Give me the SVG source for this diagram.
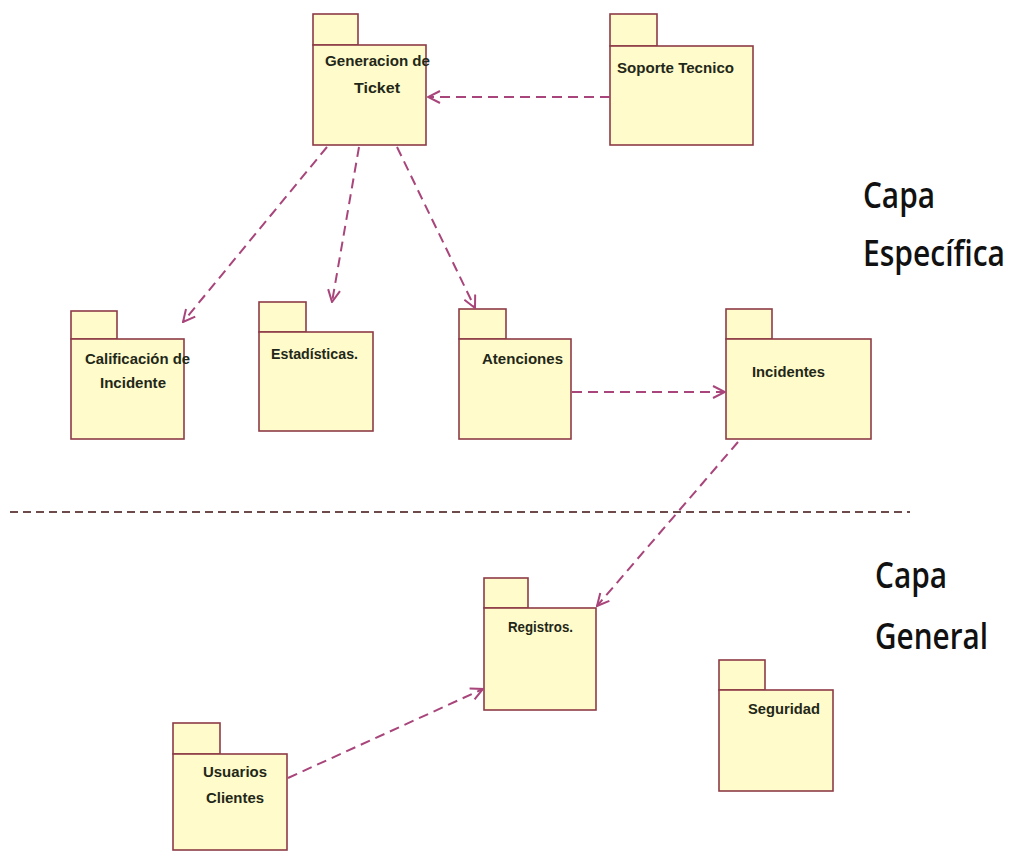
<svg xmlns="http://www.w3.org/2000/svg" width="1017" height="852" viewBox="0 0 1017 852">
  <defs>
    <style>
      .tab, .body { fill: #FFFBCB; stroke: #8E3B46; stroke-width: 1.6; }
      .lbl { font-family: "Liberation Sans", Arial, sans-serif; font-weight: bold; font-size: 15px; fill: #1F2818; }
      .dep { fill: none; stroke: #A8457A; stroke-width: 2; stroke-dasharray: 10 6; marker-end: url(#open); }
      .sep { fill: none; stroke: #6E4B4B; stroke-width: 2; stroke-dasharray: 8 5; }
      .layer { font-family: "Open Sans", "Liberation Sans", sans-serif; font-weight: 600; font-size: 30px; fill: #111; }
    </style>
    <marker id="open" viewBox="0 0 14 14" markerWidth="14" markerHeight="14" refX="13" refY="7" orient="auto" markerUnits="userSpaceOnUse">
      <path d="M1,1 L13,7 L1,13" fill="none" stroke="#A8457A" stroke-width="2" stroke-dasharray="none"/>
    </marker>
  </defs>

  <rect width="1017" height="852" fill="#FFFFFF"/>

  <!-- layer separator -->
  <line class="sep" x1="10" y1="512" x2="910" y2="512"/>

  <!-- layer titles (stretched vertically for a condensed look) -->
  <g id="capa-especifica" transform="scale(1 1.2)">
    <text class="layer" x="863" y="173.3" textLength="72" lengthAdjust="spacingAndGlyphs">Capa</text>
    <text class="layer" x="863" y="221.7" textLength="142" lengthAdjust="spacingAndGlyphs">Específica</text>
  </g>
  <g id="capa-general" transform="scale(1 1.2)">
    <text class="layer" x="875" y="490" textLength="72" lengthAdjust="spacingAndGlyphs">Capa</text>
    <text class="layer" x="875" y="540.8" textLength="113" lengthAdjust="spacingAndGlyphs">General</text>
  </g>

  <!-- packages -->
  <g id="generacion-ticket">
    <rect class="tab" x="313" y="14" width="45" height="31"/>
    <rect class="body" x="313" y="45" width="113" height="100"/>
    <text class="lbl" x="325" y="66" textLength="105" lengthAdjust="spacingAndGlyphs">Generacion de</text>
    <text class="lbl" x="354" y="93" textLength="46" lengthAdjust="spacingAndGlyphs">Ticket</text>
  </g>

  <g id="soporte-tecnico">
    <rect class="tab" x="610" y="14" width="47" height="32"/>
    <rect class="body" x="610" y="46" width="143" height="99"/>
    <text class="lbl" x="617" y="73" textLength="117" lengthAdjust="spacingAndGlyphs">Soporte Tecnico</text>
  </g>

  <g id="calificacion-incidente">
    <rect class="tab" x="71" y="311" width="46" height="28"/>
    <rect class="body" x="71" y="339" width="113" height="100"/>
    <text class="lbl" x="85" y="364" textLength="105" lengthAdjust="spacingAndGlyphs">Calificación de</text>
    <text class="lbl" x="100" y="388" textLength="66" lengthAdjust="spacingAndGlyphs">Incidente</text>
  </g>

  <g id="estadisticas">
    <rect class="tab" x="259" y="302" width="47" height="30"/>
    <rect class="body" x="259" y="332" width="114" height="99"/>
    <text class="lbl" x="271" y="359" textLength="87" lengthAdjust="spacingAndGlyphs">Estadísticas.</text>
  </g>

  <g id="atenciones">
    <rect class="tab" x="459" y="309" width="47" height="30"/>
    <rect class="body" x="459" y="339" width="112" height="100"/>
    <text class="lbl" x="482" y="364" textLength="81" lengthAdjust="spacingAndGlyphs">Atenciones</text>
  </g>

  <g id="incidentes">
    <rect class="tab" x="726" y="309" width="46" height="30"/>
    <rect class="body" x="726" y="339" width="145" height="100"/>
    <text class="lbl" x="752" y="377" textLength="73" lengthAdjust="spacingAndGlyphs">Incidentes</text>
  </g>

  <g id="registros">
    <rect class="tab" x="484" y="578" width="44" height="30"/>
    <rect class="body" x="484" y="608" width="112" height="102"/>
    <text class="lbl" x="508" y="632" textLength="65" lengthAdjust="spacingAndGlyphs">Registros.</text>
  </g>

  <g id="seguridad">
    <rect class="tab" x="719" y="660" width="46" height="30"/>
    <rect class="body" x="719" y="690" width="114" height="101"/>
    <text class="lbl" x="748" y="714" textLength="72" lengthAdjust="spacingAndGlyphs">Seguridad</text>
  </g>

  <g id="usuarios-clientes">
    <rect class="tab" x="173" y="723" width="47" height="31"/>
    <rect class="body" x="173" y="754" width="114" height="96"/>
    <text class="lbl" x="203" y="777" textLength="64" lengthAdjust="spacingAndGlyphs">Usuarios</text>
    <text class="lbl" x="206" y="803" textLength="58" lengthAdjust="spacingAndGlyphs">Clientes</text>
  </g>

  <!-- dependencies -->
  <g id="connectors">
    <line class="dep" x1="610" y1="97" x2="428" y2="97"/>
    <line class="dep" x1="327" y1="147" x2="183" y2="322"/>
    <line class="dep" x1="359" y1="147" x2="332" y2="302"/>
    <line class="dep" x1="397" y1="147" x2="475" y2="308"/>
    <line class="dep" x1="572" y1="392" x2="725" y2="392"/>
    <line class="dep" x1="738" y1="442" x2="597" y2="606"/>
    <line class="dep" x1="288" y1="778" x2="483" y2="689"/>
  </g>
</svg>
